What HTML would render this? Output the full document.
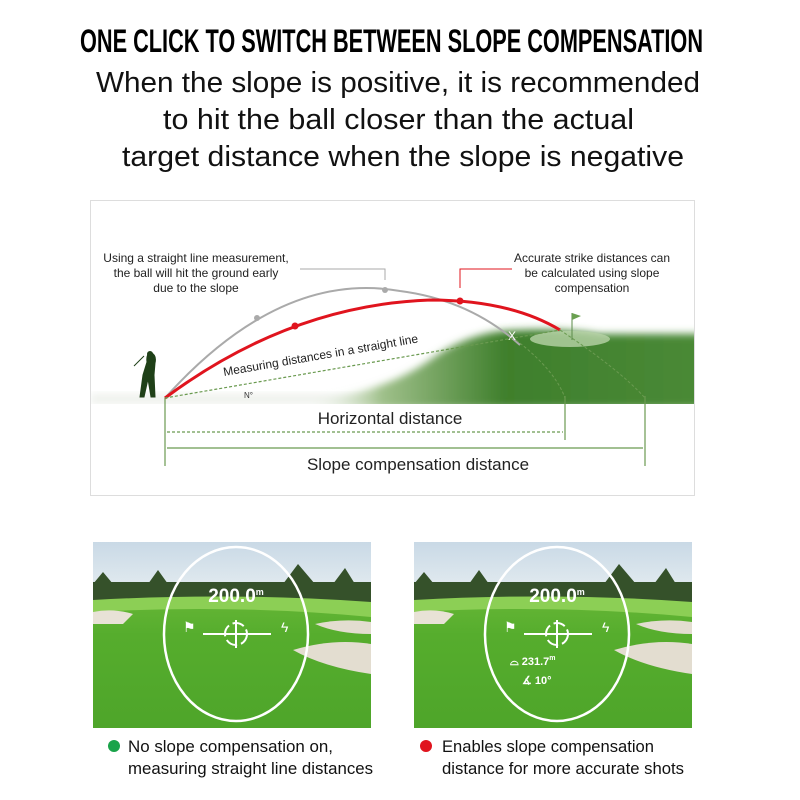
<!DOCTYPE html>
<html><head><meta charset="utf-8"><style>
html,body{margin:0;padding:0;background:#fff;width:800px;height:800px;overflow:hidden}
svg text{font-family:"Liberation Sans",sans-serif}
</style></head><body>
<svg width="800" height="800" viewBox="0 0 800 800" xmlns="http://www.w3.org/2000/svg">
<defs>
<clipPath id="box"><rect x="91" y="201" width="603" height="203"/></clipPath>
<filter id="blur" x="-10%" y="-30%" width="120%" height="160%"><feGaussianBlur stdDeviation="4"/></filter>
<linearGradient id="hill" x1="0" y1="0" x2="1" y2="0">
<stop offset="0" stop-color="#fff" stop-opacity="0"/><stop offset="0.2" stop-color="#9fc08a"/><stop offset="0.5" stop-color="#3f7f2c"/><stop offset="1" stop-color="#4a8a37"/></linearGradient>
<linearGradient id="sky" x1="0" y1="0" x2="0" y2="1"><stop offset="0" stop-color="#c9d9e6"/><stop offset="1" stop-color="#e4ecf0"/></linearGradient>
<linearGradient id="grass" x1="0" y1="0" x2="0" y2="1"><stop offset="0" stop-color="#7cc443"/><stop offset="0.5" stop-color="#56ad2d"/><stop offset="1" stop-color="#4ea52a"/></linearGradient>
<g id="photo">
<rect x="0" y="0" width="278" height="186" fill="url(#grass)"/>
<rect x="0" y="0" width="278" height="50" fill="url(#sky)"/>
<rect x="0" y="40" width="278" height="22" fill="#35512a"/>
<path d="M0 42 L10 30 L20 42 Z M55 42 L65 28 L75 42Z M190 42 L205 22 L222 42Z M240 42 L252 26 L262 42Z" fill="#35512a"/>
<path d="M0 58 Q140 50 278 60 L278 75 Q140 62 0 70Z" fill="#8ccf55"/>
<path d="M0 70 Q20 66 40 72 L30 82 L0 82Z" fill="#e8e2d6"/>
<path d="M222 82 Q250 76 278 80 L278 92 Q245 92 222 82Z" fill="#e3ddd0"/>
<path d="M200 108 Q240 96 278 102 L278 132 Q230 125 200 108Z" fill="#e3ddd0"/>
<ellipse cx="143" cy="92" rx="72" ry="87" fill="none" stroke="#fff" stroke-width="2.5"/>
<text x="143" y="60" font-size="19" font-weight="bold" fill="#fff" text-anchor="middle" font-family="Liberation Mono">200.0<tspan font-size="9" dy="-7">m</tspan></text>
<line x1="110" y1="92" x2="178" y2="92" stroke="#fff" stroke-width="2"/>
<circle cx="143" cy="92" r="11" fill="none" stroke="#fff" stroke-width="2" stroke-dasharray="12 4"/>
<line x1="143" y1="78" x2="143" y2="106" stroke="#fff" stroke-width="2"/>
<text x="90" y="90" font-size="14" fill="#fff">⚑</text>
<text x="188" y="90" font-size="14" fill="#fff">ϟ</text>
</g>
</defs>

<text x="80" y="52" font-size="32" font-weight="bold" textLength="623" lengthAdjust="spacingAndGlyphs" fill="#000">ONE CLICK TO SWITCH BETWEEN SLOPE COMPENSATION</text>
<text x="96" y="92" font-size="29" textLength="604" lengthAdjust="spacingAndGlyphs" fill="#111">When the slope is positive, it is recommended</text>
<text x="163" y="129" font-size="29" textLength="471" lengthAdjust="spacingAndGlyphs" fill="#111">to hit the ball closer than the actual</text>
<text x="122" y="166" font-size="29" textLength="562" lengthAdjust="spacingAndGlyphs" fill="#111">target distance when the slope is negative</text>

<rect x="90.5" y="200.5" width="604" height="295" fill="#fff" stroke="#ddd"/>
<g clip-path="url(#box)">
<rect x="91" y="394" width="603" height="10" fill="#eef1ec" filter="url(#blur)"/>
<path d="M300 402 Q380 395 430 360 Q470 330 520 330 Q560 328 600 334 L710 334 L710 408 L300 408Z" fill="url(#hill)" filter="url(#blur)"/>
</g>
<ellipse cx="570" cy="339" rx="40" ry="8" fill="#b8d3a8" opacity="0.8"/>
<line x1="572" y1="340" x2="572" y2="313" stroke="#5a8a48" stroke-width="1"/>
<path d="M572 313 L581 316 L572 320Z" fill="#6aa050"/>
<path d="M165 398 Q280 270 400 291 Q470 300 520 345" fill="none" stroke="#aaa" stroke-width="2"/>
<path d="M165 398 Q290 305 430 300 Q510 300 560 330" fill="none" stroke="#e0141e" stroke-width="3"/>
<circle cx="257" cy="318" r="3" fill="#aaa"/><circle cx="385" cy="290" r="3" fill="#aaa"/>
<circle cx="295" cy="326" r="3.5" fill="#e0141e"/><circle cx="460" cy="301" r="3.5" fill="#e0141e"/>
<text x="508" y="340" font-size="12" fill="#fff">X</text>
<line x1="165" y1="398" x2="560" y2="330" stroke="#6a9a50" stroke-width="1.2" stroke-dasharray="3 2"/>
<text x="224" y="376" font-size="12" fill="#222" transform="rotate(-9.8 224 376)">Measuring distances in a straight line</text>
<text x="244" y="398" font-size="8" fill="#333">N°</text>
<path d="M516 340 Q555 370 565 398 M560 330 Q620 370 645 398" fill="none" stroke="#6a9a50" stroke-dasharray="3 2"/>
<path d="M300 269 H385 V280" fill="none" stroke="#aaa"/>
<path d="M512 269 H460 V288" fill="none" stroke="#e0141e"/>
<g font-size="12" fill="#222" text-anchor="middle">
<text x="196" y="262">Using a straight line measurement,</text>
<text x="196" y="277">the ball will hit the ground early</text>
<text x="196" y="292">due to the slope</text>
<text x="592" y="262">Accurate strike distances can</text>
<text x="592" y="277">be calculated using slope</text>
<text x="592" y="292">compensation</text>
</g>
<path d="M150 352 q-4 3 -3 10 l-4 13 l-3 22 h4 l4 -18 l3 18 h4 l-1 -22 l1 -12 q2 -8 -5 -11z M144 356 l-10 10" fill="#1f4018" stroke="#1f4018"/>
<circle cx="150" cy="354" r="3" fill="#1f4018"/>
<g stroke="#6a9a50" stroke-width="1.2" fill="none">
<line x1="165" y1="398" x2="165" y2="466"/>
<line x1="565" y1="396" x2="565" y2="440"/>
<line x1="645" y1="396" x2="645" y2="466"/>
<line x1="167" y1="432" x2="563" y2="432" stroke-dasharray="3 2"/>
<line x1="167" y1="448" x2="643" y2="448"/>
</g>
<text x="390" y="424" font-size="17" fill="#222" text-anchor="middle">Horizontal distance</text>
<text x="418" y="470" font-size="17" fill="#222" text-anchor="middle">Slope compensation distance</text>

<use href="#photo" x="93" y="542"/>
<use href="#photo" x="414" y="542"/>
<g fill="#fff" font-size="11" font-family="Liberation Mono" font-weight="bold">
<text x="510" y="665">⌓ 231.7<tspan font-size="7" dy="-5">m</tspan></text>
<text x="522" y="684">∡ 10°</text>
</g>

<circle cx="114" cy="746" r="6" fill="#1aa34a"/>
<text x="128" y="752" font-size="17" fill="#111" textLength="205" lengthAdjust="spacingAndGlyphs">No slope compensation on,</text>
<text x="128" y="774" font-size="17" fill="#111" textLength="245" lengthAdjust="spacingAndGlyphs">measuring straight line distances</text>
<circle cx="426" cy="746" r="6" fill="#e0141e"/>
<text x="442" y="752" font-size="17" fill="#111" textLength="212" lengthAdjust="spacingAndGlyphs">Enables slope compensation</text>
<text x="442" y="774" font-size="17" fill="#111" textLength="242" lengthAdjust="spacingAndGlyphs">distance for more accurate shots</text>
</svg>
</body></html>
